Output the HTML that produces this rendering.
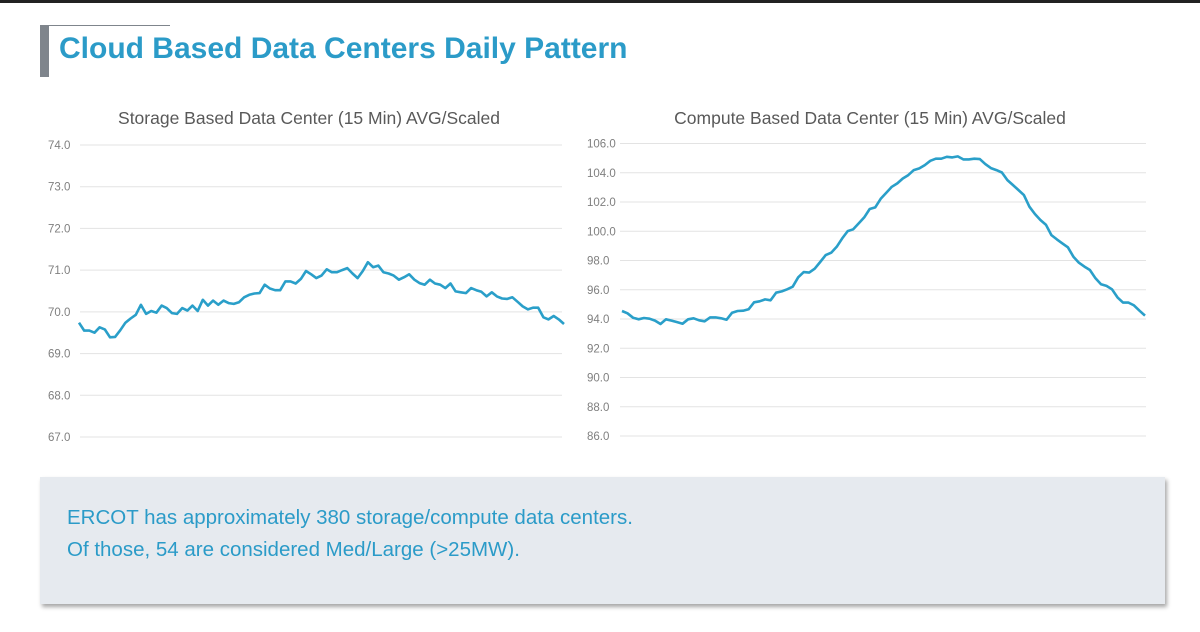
<!DOCTYPE html>
<html><head><meta charset="utf-8"><style>
body{margin:0;width:1200px;height:632px;background:#fff;overflow:hidden;font-family:"Liberation Sans",sans-serif;position:relative}
#topbar{position:absolute;left:0;top:0;width:1200px;height:3px;background:#222}
#accent{position:absolute;left:40px;top:26px;width:9px;height:51px;background:#7f858c}
#accent-line{position:absolute;left:40px;top:25px;width:130px;height:1px;background:#7f858c}
h1{position:absolute;left:59px;top:32px;margin:0;font-size:30px;font-weight:bold;color:#2b9bc8}
#callout{position:absolute;left:40px;top:477px;width:1125px;height:127px;background:#e6eaef;box-shadow:2px 3px 4px rgba(0,0,0,.35)}
#callout p{margin:0;position:absolute;left:27px;font-size:20.5px;color:#2b9bc8}
svg{position:absolute;left:0;top:0}
</style></head><body>
<div id="topbar"></div>
<div id="accent-line"></div>
<div id="accent"></div>
<h1>Cloud Based Data Centers Daily Pattern</h1>
<svg id="chart" width="1200" height="632"></svg>
<div id="callout">
<p style="top:29px">ERCOT has approximately 380 storage/compute data centers.</p>
<p style="top:61px">Of those, 54 are considered Med/Large (&gt;25MW).</p>
</div>
<script>
const storageTicks=[67,68,69,70,71,72,73,74];
const storageValues=[69.74,69.55,69.55,69.50,69.63,69.58,69.39,69.40,69.56,69.74,69.84,69.93,70.17,69.95,70.02,69.98,70.15,70.09,69.97,69.95,70.09,70.03,70.15,70.02,70.29,70.15,70.27,70.17,70.27,70.21,70.19,70.23,70.35,70.41,70.44,70.45,70.65,70.56,70.52,70.52,70.73,70.73,70.68,70.79,70.98,70.90,70.81,70.87,71.02,70.95,70.95,71.00,71.05,70.92,70.81,70.98,71.19,71.07,71.11,70.95,70.92,70.87,70.77,70.83,70.90,70.77,70.69,70.65,70.77,70.68,70.65,70.57,70.68,70.49,70.47,70.45,70.57,70.52,70.48,70.37,70.47,70.37,70.32,70.31,70.35,70.24,70.13,70.06,70.10,70.10,69.87,69.82,69.90,69.82,69.71];
const computeTicks=[86,88,90,92,94,96,98,100,102,104,106];
const computeValues=[94.55,94.39,94.09,93.98,94.07,94.02,93.89,93.66,93.98,93.89,93.79,93.68,93.98,94.05,93.91,93.84,94.11,94.11,94.05,93.95,94.43,94.55,94.57,94.66,95.14,95.21,95.34,95.28,95.80,95.89,96.03,96.21,96.85,97.21,97.17,97.44,97.90,98.37,98.53,98.94,99.51,100.01,100.13,100.54,100.95,101.52,101.63,102.22,102.63,103.04,103.27,103.61,103.84,104.18,104.30,104.52,104.82,104.96,104.96,105.09,105.05,105.12,104.91,104.91,104.96,104.93,104.59,104.32,104.18,104.02,103.50,103.16,102.82,102.47,101.68,101.18,100.77,100.45,99.74,99.44,99.17,98.90,98.26,97.85,97.58,97.35,96.78,96.37,96.26,96.03,95.48,95.12,95.12,94.93,94.57,94.23];
const titles=["Storage Based Data Center (15 Min) AVG/Scaled","Compute Based Data Center (15 Min) AVG/Scaled"];
const svg=document.getElementById('chart');
const NS='http://www.w3.org/2000/svg';
function mk(t,a){const e=document.createElementNS(NS,t);for(const k in a)e.setAttribute(k,a[k]);svg.appendChild(e);return e;}
function draw(cfg,ticks,vals,title,key){
  const min=ticks[0],max=ticks[ticks.length-1];
  const y=v=>cfg.y1+(max-v)/(max-min)*(cfg.y0-cfg.y1);
  const x=i=>cfg.lx0+i/(vals.length-1)*(cfg.lx1-cfg.lx0);
  const t=mk('text',{x:cfg.tx,y:124,'text-anchor':'middle','font-size':'17.5','fill':'#595959','font-family':'Liberation Sans, sans-serif'});
  t.textContent=title;
  
  
  ticks.forEach(v=>{
    const g=mk('line',{x1:cfg.gx0,x2:cfg.gx1,y1:y(v),y2:y(v),stroke:'#e3e3e3','stroke-width':1});
    
    
    const l=mk('text',{x:cfg.labx,y:y(v)+4,'font-size':'11.5','fill':'#7f7f7f','font-family':'Liberation Sans, sans-serif'});
    l.textContent=v.toFixed(1);
    
    
  });
  const d=vals.map((v,i)=>(i?'L':'M')+x(i).toFixed(1)+' '+y(v).toFixed(1)).join(' ');
  const p=mk('path',{d:d,fill:'none',stroke:'#2a9fc9','stroke-width':2.6,'stroke-linejoin':'round'});
  
  
}
draw({y1:145,y0:437,gx0:80,gx1:562,lx0:79,lx1:564,labx:48,tx:309},storageTicks,storageValues,titles[0],'storage');
draw({y1:143.5,y0:436,gx0:620,gx1:1146,lx0:622,lx1:1145,labx:587,tx:870},computeTicks,computeValues,titles[1],'compute');
</script>
</body></html>
